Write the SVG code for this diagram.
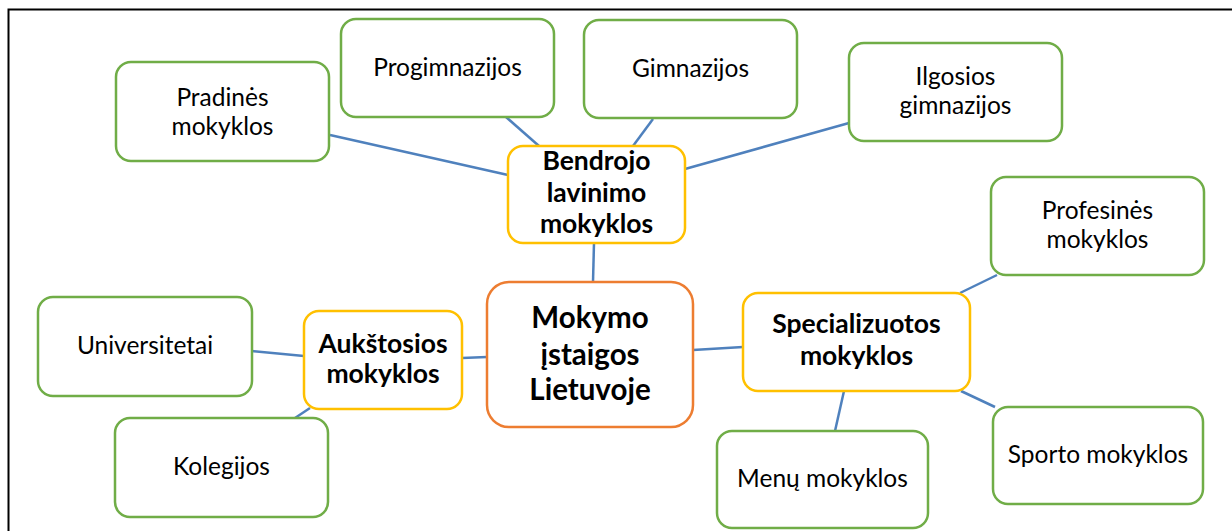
<svg xmlns="http://www.w3.org/2000/svg" width="1232" height="531" viewBox="0 0 1232 531">
<style>
.g{fill:#fff;stroke:#70ad47;stroke-width:2.5}
.y{fill:#fff;stroke:#ffc000;stroke-width:2.5}
.o{fill:#fff;stroke:#ed7d31;stroke-width:2.5}
.t{font-family:Lato,"Liberation Sans",sans-serif;font-size:24.5px;fill:#000;text-anchor:middle}
.b{font-family:Lato,"Liberation Sans",sans-serif;font-size:26.5px;font-weight:bold;fill:#000;text-anchor:middle}
.c{font-family:Lato,"Liberation Sans",sans-serif;font-size:29.5px;font-weight:bold;fill:#000;text-anchor:middle}
#connectors line{stroke:#4f81bd;stroke-width:2.5}
</style>
<rect x="0" y="0" width="1232" height="531" fill="#fff"/>
<path d="M8.5,531 V9.5 H1232" fill="none" stroke="#000" stroke-width="2"/>
<g id="connectors">
<line x1="330" y1="135" x2="508" y2="175"/>
<line x1="506" y1="117" x2="539" y2="146"/>
<line x1="653" y1="119" x2="633" y2="146"/>
<line x1="685" y1="169" x2="849" y2="123"/>
<line x1="594" y1="243" x2="593" y2="282"/>
<line x1="693" y1="350" x2="743" y2="347"/>
<line x1="462" y1="358" x2="487" y2="357"/>
<line x1="252" y1="351" x2="304" y2="356"/>
<line x1="310" y1="408" x2="295" y2="418"/>
<line x1="960" y1="293" x2="997" y2="275"/>
<line x1="844" y1="391" x2="835" y2="431"/>
<line x1="961" y1="391" x2="995" y2="407"/>
</g>
<g id="pradines"><rect class="g" x="116" y="62" width="213" height="99" rx="15"/><text class="t" x="222.5" y="106">Pradinės</text><text class="t" x="222.5" y="135">mokyklos</text></g>
<g id="progimnazijos"><rect class="g" x="341" y="19" width="213" height="98" rx="15"/><text class="t" x="447.5" y="76">Progimnazijos</text></g>
<g id="gimnazijos"><rect class="g" x="584" y="20" width="213" height="98" rx="15"/><text class="t" x="690.5" y="77">Gimnazijos</text></g>
<g id="ilgosios"><rect class="g" x="849" y="43" width="213" height="98" rx="15"/><text class="t" x="955.5" y="85">Ilgosios</text><text class="t" x="955.5" y="114">gimnazijos</text></g>
<g id="bendrojo"><rect class="y" x="508" y="146" width="177" height="97" rx="15"/><text class="b" x="596.5" y="170">Bendrojo</text><text class="b" x="596.5" y="202">lavinimo</text><text class="b" x="596.5" y="233">mokyklos</text></g>
<g id="profesines"><rect class="g" x="991" y="177" width="213" height="98" rx="15"/><text class="t" x="1097.5" y="219">Profesinės</text><text class="t" x="1097.5" y="248">mokyklos</text></g>
<g id="universitetai"><rect class="g" x="38" y="297" width="214" height="99" rx="15"/><text class="t" x="145" y="354">Universitetai</text></g>
<g id="aukstosios"><rect class="y" x="304" y="311" width="158" height="98" rx="15"/><text class="b" x="383" y="353">Aukštosios</text><text class="b" x="383" y="383">mokyklos</text></g>
<g id="center"><rect class="o" x="487" y="282" width="206" height="145" rx="22"/><text class="c" x="590" y="328">Mokymo</text><text class="c" x="590" y="365">įstaigos</text><text class="c" x="590" y="400">Lietuvoje</text></g>
<g id="specializuotos"><rect class="y" x="743" y="293" width="227" height="98" rx="15"/><text class="b" x="856.5" y="333">Specializuotos</text><text class="b" x="856.5" y="365">mokyklos</text></g>
<g id="kolegijos"><rect class="g" x="115" y="418" width="213" height="99" rx="15"/><text class="t" x="221.5" y="475">Kolegijos</text></g>
<g id="menu"><rect class="g" x="717" y="431" width="211" height="97" rx="15"/><text class="t" x="822.5" y="487">Menų mokyklos</text></g>
<g id="sporto"><rect class="g" x="993" y="407" width="210" height="97" rx="15"/><text class="t" x="1098" y="463">Sporto mokyklos</text></g>
</svg>
